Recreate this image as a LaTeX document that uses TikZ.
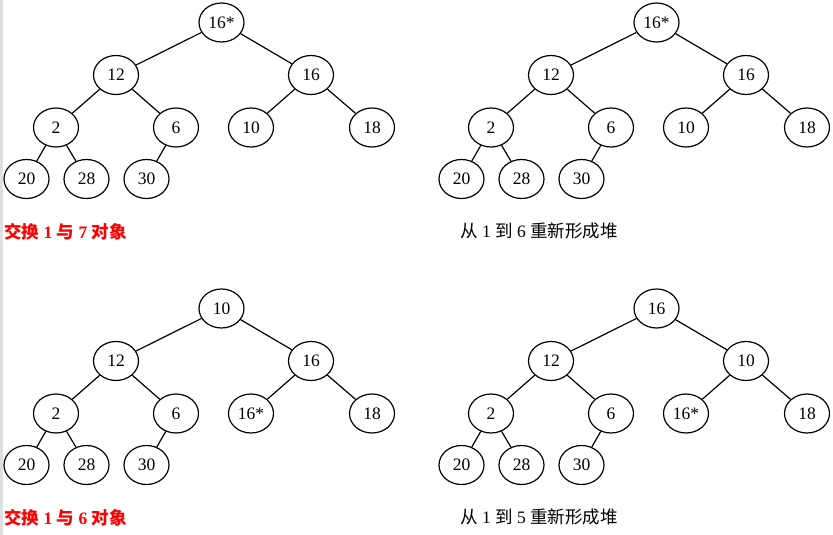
\documentclass[tikz,border=0pt]{standalone}
\usepackage{fontspec}
\setmainfont{Liberation Serif}
\newfontfamily\cjk{Noto Sans CJK SC}
\tikzset{
  heapnode/.style={draw, ellipse, line width=1.2pt, minimum width=45pt, minimum height=39pt, inner sep=0pt},
  heapedge/.style={line width=1.2pt},
  steplabel/.style={anchor=west, inner sep=0pt}
}
\usetikzlibrary{shapes.geometric}
\begin{document}
\begin{tikzpicture}[x=1pt, y=-1pt, font=\fontsize{17.5}{20}\selectfont]
\useasboundingbox (0,0) rectangle (833,535);
\fill[black!12] (0,0) rectangle (3,535);
% step 1: swap 1 and 7
\begin{scope}
  \node[heapnode] (a1) at (221.5,22.5) {16*};
  \node[heapnode] (a2) at (116,75) {12};
  \node[heapnode] (a3) at (311,75) {16};
  \node[heapnode] (a4) at (56,127.5) {2};
  \node[heapnode] (a5) at (176,127.5) {6};
  \node[heapnode] (a6) at (251,127.5) {10};
  \node[heapnode] (a7) at (372,127.5) {18};
  \node[heapnode] (a8) at (26.5,179) {20};
  \node[heapnode] (a9) at (86.5,179) {28};
  \node[heapnode] (a10) at (146.5,179) {30};
  \draw[heapedge] (a1) -- (a2) (a1) -- (a3) (a2) -- (a4) (a2) -- (a5) (a3) -- (a6) (a3) -- (a7)
    (a4) -- (a8) (a4) -- (a9) (a5) -- (a10);
  \node[steplabel, text=red] (la) at (4,232) {\bfseries{\cjk 交换} 1 {\cjk 与} 7 {\cjk 对象}};
\end{scope}
% step 2: heapify 1 to 6
\begin{scope}[shift={(435,0)}]
  \node[heapnode] (b1) at (221.5,22.5) {16*};
  \node[heapnode] (b2) at (116,75) {12};
  \node[heapnode] (b3) at (311,75) {16};
  \node[heapnode] (b4) at (56,127.5) {2};
  \node[heapnode] (b5) at (176,127.5) {6};
  \node[heapnode] (b6) at (251,127.5) {10};
  \node[heapnode] (b7) at (372,127.5) {18};
  \node[heapnode] (b8) at (26.5,179) {20};
  \node[heapnode] (b9) at (86.5,179) {28};
  \node[heapnode] (b10) at (146.5,179) {30};
  \draw[heapedge] (b1) -- (b2) (b1) -- (b3) (b2) -- (b4) (b2) -- (b5) (b3) -- (b6) (b3) -- (b7)
    (b4) -- (b8) (b4) -- (b9) (b5) -- (b10);
  \node[steplabel] (lb) at (25,231) {{\cjk 从} 1 {\cjk 到} 6 {\cjk 重新形成堆}};
\end{scope}
% step 3: swap 1 and 6
\begin{scope}[shift={(0,286)}]
  \node[heapnode] (c1) at (221.5,22.5) {10};
  \node[heapnode] (c2) at (116,75) {12};
  \node[heapnode] (c3) at (311,75) {16};
  \node[heapnode] (c4) at (56,127.5) {2};
  \node[heapnode] (c5) at (176,127.5) {6};
  \node[heapnode] (c6) at (251,127.5) {16*};
  \node[heapnode] (c7) at (372,127.5) {18};
  \node[heapnode] (c8) at (26.5,179) {20};
  \node[heapnode] (c9) at (86.5,179) {28};
  \node[heapnode] (c10) at (146.5,179) {30};
  \draw[heapedge] (c1) -- (c2) (c1) -- (c3) (c2) -- (c4) (c2) -- (c5) (c3) -- (c6) (c3) -- (c7)
    (c4) -- (c8) (c4) -- (c9) (c5) -- (c10);
  \node[steplabel, text=red] (lc) at (4,232) {\bfseries{\cjk 交换} 1 {\cjk 与} 6 {\cjk 对象}};
\end{scope}
% step 4: heapify 1 to 5
\begin{scope}[shift={(435,286)}]
  \node[heapnode] (d1) at (221.5,22.5) {16};
  \node[heapnode] (d2) at (116,75) {12};
  \node[heapnode] (d3) at (311,75) {10};
  \node[heapnode] (d4) at (56,127.5) {2};
  \node[heapnode] (d5) at (176,127.5) {6};
  \node[heapnode] (d6) at (251,127.5) {16*};
  \node[heapnode] (d7) at (372,127.5) {18};
  \node[heapnode] (d8) at (26.5,179) {20};
  \node[heapnode] (d9) at (86.5,179) {28};
  \node[heapnode] (d10) at (146.5,179) {30};
  \draw[heapedge] (d1) -- (d2) (d1) -- (d3) (d2) -- (d4) (d2) -- (d5) (d3) -- (d6) (d3) -- (d7)
    (d4) -- (d8) (d4) -- (d9) (d5) -- (d10);
  \node[steplabel] (ld) at (25,231) {{\cjk 从} 1 {\cjk 到} 5 {\cjk 重新形成堆}};
\end{scope}
\end{tikzpicture}
\end{document}
